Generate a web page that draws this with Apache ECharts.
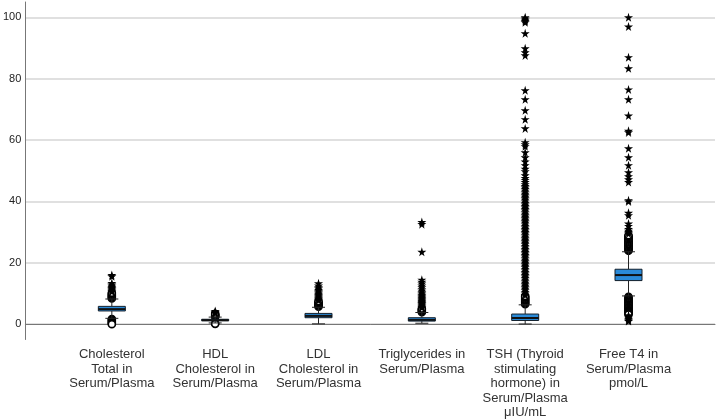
<!DOCTYPE html>
<html>
<head>
<meta charset="utf-8">
<script src="https://cdn.jsdelivr.net/npm/echarts@6/dist/echarts.min.js"></script>
<style>
  html, body { margin: 0; padding: 0; background: #fff; }
  #chart { width: 717px; height: 420px; }
</style>
</head>
<body>
<div id="chart"></div>
<script>
const categories = [
  'Cholesterol\nTotal in\nSerum/Plasma',
  'HDL\nCholesterol in\nSerum/Plasma',
  'LDL\nCholesterol in\nSerum/Plasma',
  'Triglycerides in\nSerum/Plasma',
  'TSH (Thyroid\nstimulating\nhormone) in\nSerum/Plasma\nμIU/mL',
  'Free T4 in\nSerum/Plasma\npmol/L'
];
const yTicks = [0, 20, 40, 60, 80, 100];

// [lower whisker, Q1, median, Q3, upper whisker]
const boxStats = [
  [1.9, 4.3, 4.9, 5.8, 8.2],
  [0.4, 1.1, 1.3, 1.6, 2.3],
  [0.1, 2.1, 2.7, 3.5, 5.5],
  [0.3, 1.0, 1.4, 2.1, 3.8],
  [0.05, 1.2, 2.0, 3.3, 6.3],
  [9.2, 14.2, 16.0, 17.9, 23.6]
];

// outliers (circles) per category
const cholOut = [8.4, 8.7, 9.0, 9.3, 9.6, 9.9, 10.2, 1.7, 1.4, 1.1, 0.8, 0.5, 0.2, 0.0];
const hdlOut = [2.4, 2.6, 2.8, 3.0, 3.2, 3.4, 0.2, 0.1];
const ldlOut = [5.7, 6.0, 6.3, 6.6, 6.9, 7.2, 7.5];
const trigOut = [3.9, 4.2, 4.5, 4.8, 5.1];
const tshOut = [6.5, 6.8, 7.1, 7.4, 7.7, 8.0, 8.3, 8.6, 8.9, 9.2];
const ft4Out = [23.9, 24.2, 24.5, 24.8, 25.1, 25.4, 25.7, 26.0, 26.3, 26.6, 26.9, 27.2, 27.5, 27.8, 28.1, 28.4, 28.7, 29.0,
  8.9, 8.6, 8.3, 8.0, 7.7, 7.4, 7.1, 6.8, 6.5, 6.2, 5.9, 5.6, 5.3, 5.0, 4.7, 4.4, 4.1, 3.8, 3.5, 3.2];

// extreme values (stars) per category
const cholExt = [10.6, 10.9, 11.2, 11.5, 11.8, 12.1, 12.5, 12.9, 13.4, 15.6, 16.0];
const hdlExt = [3.6, 3.8, 4.0, 4.3];
const ldlExt = [7.8, 8.1, 8.4, 8.7, 9.0, 9.3, 9.6, 9.9, 10.3, 10.7, 11.1, 11.6, 12.0, 12.6, 13.3];
const trigExt = [5.4, 5.7, 6.0, 6.3, 6.6, 6.9, 7.2, 7.5, 7.8, 8.1, 8.4, 8.7, 9.0, 9.3, 9.6, 10.0,
  10.4, 10.9, 11.4, 12.0, 12.6, 13.2, 13.8, 14.5, 23.6, 32.6, 33.3];
const tshExt = [9.5, 10.0, 10.5, 11.0, 11.5, 12.0, 12.5, 13.0, 13.5, 14.0, 14.5, 15.0, 15.5, 16.0, 16.5, 17.0,
  17.5, 18.0, 18.5, 19.0, 19.5, 20.0, 20.5, 21.0, 21.5, 22.0, 22.5, 23.0, 23.5, 24.0, 24.5, 25.0, 25.5, 26.0,
  26.5, 27.0, 27.5, 28.0, 28.5, 29.0, 29.5, 30.0, 30.5, 31.0, 31.5, 32.0, 32.5, 33.0, 33.5, 34.0, 34.5, 35.0,
  35.5, 36.0, 36.5, 37.0, 37.5, 38.0, 38.5, 39.0, 39.5, 40.0, 40.5, 41.0, 41.5, 42.0, 42.5, 43.0, 43.5, 44.0,
  44.5, 45.0, 45.6, 46.3, 47.0, 47.6, 48.5, 49.8, 50.6, 51.8, 53.0, 54.4, 56.0, 58.0, 58.6, 59.3,
  63.8, 66.8, 69.7, 73.3, 76.2, 87.6, 88.6, 89.9, 94.8, 98.4, 98.8, 99.2, 99.6, 100.0];
const ft4Ext = [29.5, 30.0, 30.4, 31.0, 32.0, 32.8, 35.5, 36.3, 40.0, 40.4, 46.3, 47.2, 48.2, 49.5, 51.8, 54.4,
  57.3, 62.5, 63.0, 68.0, 73.3, 76.5, 83.4, 87.0, 97.0, 100.0, 2.9, 2.5, 2.1, 1.7, 1.3, 1.0];

const outliers = [cholOut, hdlOut, ldlOut, trigOut, tshOut, ft4Out];
const extremes = [cholExt, hdlExt, ldlExt, trigExt, tshExt, ft4Ext];

const STAR = 'path://M50,0 L61,35 L98,35 L68,57 L79,91 L50,70 L21,91 L32,57 L2,35 L39,35 Z';

function toPoints(groups) {
  const pts = [];
  groups.forEach((vals, i) => vals.forEach(v => pts.push([i + 1, v])));
  return pts;
}

const boxData = boxStats.map((s, i) => [i + 1].concat(s));

function renderBox(params, api) {
  const x = api.value(0);
  const low = api.coord([x, api.value(1)]);
  const q1 = api.coord([x, api.value(2)]);
  const med = api.coord([x, api.value(3)]);
  const q3 = api.coord([x, api.value(4)]);
  const high = api.coord([x, api.value(5)]);
  const cx = low[0];
  const bw = 27, cw = 13;
  const line = { stroke: '#222', lineWidth: 1 };
  return {
    type: 'group',
    children: [
      { type: 'line', shape: { x1: cx, y1: high[1], x2: cx, y2: q3[1] }, style: line },
      { type: 'line', shape: { x1: cx, y1: q1[1], x2: cx, y2: low[1] }, style: line },
      { type: 'line', shape: { x1: cx - cw / 2, y1: high[1], x2: cx + cw / 2, y2: high[1] }, style: line },
      { type: 'line', shape: { x1: cx - cw / 2, y1: low[1], x2: cx + cw / 2, y2: low[1] }, style: line },
      { type: 'rect', shape: { x: cx - bw / 2, y: q3[1], width: bw, height: q1[1] - q3[1] },
        style: { fill: '#2a8ad8', stroke: '#14202c', lineWidth: 1 } },
      { type: 'line', shape: { x1: cx - bw / 2, y1: med[1], x2: cx + bw / 2, y2: med[1] },
        style: { stroke: '#111', lineWidth: 2 } }
    ]
  };
}

const chart = echarts.init(document.getElementById('chart'));
chart.setOption({
  animation: false,
  grid: { left: 21, right: 2, top: 2, bottom: 79 },
  xAxis: {
    type: 'value',
    min: 0.163,
    max: 6.837,
    axisLine: { show: true, lineStyle: { color: '#777', width: 1 } },
    axisTick: { show: false },
    splitLine: { show: false },
    axisLabel: {
      customValues: [1, 2, 3, 4, 5, 6],
      formatter: v => categories[Math.round(v) - 1],
      fontFamily: 'Liberation Sans, Arial, sans-serif',
      fontSize: 13,
      lineHeight: 14.5,
      color: '#333',
      margin: 8,
      align: 'center',
      verticalAlign: 'top'
    }
  },
  yAxis: {
    type: 'value',
    min: -5,
    max: 105,
    axisLine: { show: true, lineStyle: { color: '#777', width: 1 } },
    axisTick: { show: false, customValues: yTicks },
    splitLine: { show: true, lineStyle: { color: '#d6d6d6', width: 1.5 } },
    axisLabel: {
      customValues: yTicks,
      fontFamily: 'Liberation Sans, Arial, sans-serif',
      fontSize: 11,
      color: '#222',
      margin: 4
    }
  },
  series: [
    {
      type: 'scatter',
      symbol: 'circle',
      symbolSize: 7,
      itemStyle: { color: '#fff', borderColor: '#000', borderWidth: 1.6, opacity: 1 },
      data: toPoints(outliers),
      z: 2
    },
    {
      type: 'scatter',
      symbol: STAR,
      symbolSize: 9,
      itemStyle: { color: '#000', opacity: 1 },
      data: toPoints(extremes),
      z: 3
    },
    {
      type: 'custom',
      renderItem: renderBox,
      data: boxData,
      z: 5
    }
  ]
});
</script>
</body>
</html>
